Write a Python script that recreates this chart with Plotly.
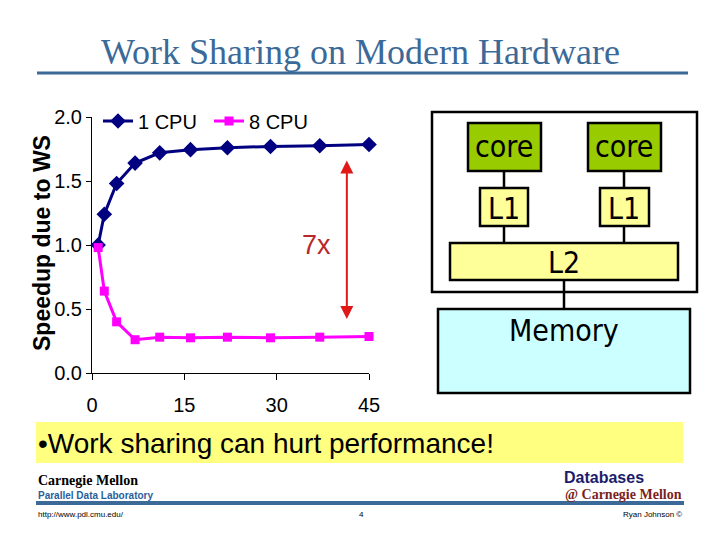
import plotly.graph_objects as go

# ---- data ----
threads = [1, 2, 4, 7, 11, 16, 22, 29, 37, 45]
cpu1 = [1.00, 1.24, 1.48, 1.64, 1.72, 1.745, 1.76, 1.77, 1.775, 1.785]
cpu8 = [0.98, 0.64, 0.40, 0.26, 0.28, 0.275, 0.28, 0.275, 0.28, 0.285]
x_ticks = [0, 15, 30, 45]
y_ticks = [0.0, 0.5, 1.0, 1.5, 2.0]
series_names = ["1 CPU", "8 CPU"]
gap_label = "7x"
gap_arrow = {"x": 41.4, "y0": 0.41, "y1": 1.66}
gap_label_pos = {"x": 36.5, "y": 1.0}

W, H = 720, 540
def px(x):
    return x / W
def py(y):
    return 1 - y / H

BLUE = "#3B6A98"
fig = go.Figure()
fig.add_trace(go.Scatter(x=threads, y=cpu1, name=series_names[0], mode="lines+markers",
                         line=dict(color="#000080", width=3),
                         marker=dict(symbol="diamond", size=12, color="#000080"),
                         cliponaxis=False))
fig.add_trace(go.Scatter(x=threads, y=cpu8, name=series_names[1], mode="lines+markers",
                         line=dict(color="#FF00FF", width=3),
                         marker=dict(symbol="square", size=9, color="#FF00FF"),
                         cliponaxis=False))

shapes = []
annotations = []

# Title underline
shapes.append(dict(type="line", xref="paper", yref="paper", x0=px(37), x1=px(688), y0=py(73), y1=py(73),
                   line=dict(color=BLUE, width=3)))
annotations.append(dict(text="Work Sharing on Modern Hardware", xref="paper", yref="paper",
                        x=px(360), y=py(52), showarrow=False, xanchor="center", yanchor="middle",
                        font=dict(family="Liberation Serif", size=36, color=BLUE)))

# y-axis title
annotations.append(dict(text="<b>Speedup due to WS</b>", xref="paper", yref="paper",
                        x=px(42), y=py(243), showarrow=False, textangle=-90,
                        xanchor="center", yanchor="middle",
                        font=dict(family="Liberation Sans", size=23, color="black")))

# gap arrow and label
annotations.append(dict(x=gap_arrow["x"], y=gap_arrow["y1"], ax=gap_arrow["x"], ay=gap_arrow["y0"],
                        xref="x", yref="y", axref="x", ayref="y", text="", showarrow=True,
                        arrowside="end+start", arrowhead=2, startarrowhead=2, arrowsize=1.3,
                        startarrowsize=1.3, arrowwidth=2, arrowcolor="#E01818",
                        standoff=0, startstandoff=0))
annotations.append(dict(x=gap_label_pos["x"], y=gap_label_pos["y"], xref="x", yref="y", text=gap_label,
                        showarrow=False, font=dict(family="Liberation Sans", size=27, color="#B8282A")))

# Hardware diagram
def box(x0, y0, x1, y1, fill, lw=2.5):
    shapes.append(dict(type="rect", xref="paper", yref="paper", x0=px(x0), x1=px(x1), y0=py(y1), y1=py(y0),
                       fillcolor=fill, line=dict(color="black", width=lw), layer="above"))
def vline(x, y0, y1):
    shapes.append(dict(type="line", xref="paper", yref="paper", x0=px(x), x1=px(x), y0=py(y0), y1=py(y1),
                       line=dict(color="black", width=2.5), layer="above"))
def label(text, x, y, size=30):
    annotations.append(dict(text=text, xref="paper", yref="paper", x=px(x), y=py(y), showarrow=False,
                            xanchor="center", yanchor="middle",
                            font=dict(family="DejaVu Sans Condensed, DejaVu Sans", size=size, color="black")))

box(432, 112, 697, 292, "white")
box(468, 123, 541, 171, "#99CC00")
box(588, 123, 661, 171, "#99CC00")
vline(504, 171, 188); vline(624, 171, 188)
box(480, 188, 528, 226, "#FFFF99")
box(600, 188, 649, 226, "#FFFF99")
vline(504, 226, 243); vline(624, 226, 243)
box(450, 243, 678, 280, "#FFFF99")
vline(564, 280, 309)
box(438, 309, 690, 393, "#CCFFFF")
label("core", 504, 146); label("core", 624, 146)
label("L1", 504, 208); label("L1", 624, 208)
label("L2", 564, 262)
label("Memory", 564, 330)

# Bullet box
shapes.append(dict(type="rect", xref="paper", yref="paper", x0=px(36), x1=px(683), y0=py(463), y1=py(422),
                   fillcolor="#FFFF80", line=dict(width=0), layer="below"))
annotations.append(dict(text="•Work sharing can hurt performance!", xref="paper", yref="paper",
                        x=px(36), y=py(443), showarrow=False, xanchor="left", yanchor="middle",
                        font=dict(family="Liberation Sans", size=28, color="black")))

# Footer
shapes.append(dict(type="line", xref="paper", yref="paper", x0=px(36), x1=px(684), y0=py(503), y1=py(503),
                   line=dict(color=BLUE, width=4)))
annotations.append(dict(text="<b>Carnegie Mellon</b>", xref="paper", yref="paper", x=px(36), y=py(480),
                        showarrow=False, xanchor="left", yanchor="middle",
                        font=dict(family="Liberation Serif", size=14, color="black")))
annotations.append(dict(text="<b>Parallel Data Laboratory</b>", xref="paper", yref="paper", x=px(36), y=py(495),
                        showarrow=False, xanchor="left", yanchor="middle",
                        font=dict(family="Liberation Sans", size=10, color="#2A5E9C")))
annotations.append(dict(text="<b>Databases</b>", xref="paper", yref="paper", x=px(562), y=py(477),
                        showarrow=False, xanchor="left", yanchor="middle",
                        font=dict(family="Liberation Sans", size=16, color="#1C1C6B")))
annotations.append(dict(text="<b>@ Carnegie Mellon</b>", xref="paper", yref="paper", x=px(684), y=py(494),
                        showarrow=False, xanchor="right", yanchor="middle",
                        font=dict(family="Liberation Serif", size=14, color="#7B1F22")))
annotations.append(dict(text="http://www.pdl.cmu.edu/", xref="paper", yref="paper", x=px(36), y=py(514),
                        showarrow=False, xanchor="left", yanchor="middle",
                        font=dict(family="Liberation Sans", size=8, color="black")))
annotations.append(dict(text="4", xref="paper", yref="paper", x=px(361), y=py(514),
                        showarrow=False, xanchor="center", yanchor="middle",
                        font=dict(family="Liberation Sans", size=8, color="black")))
annotations.append(dict(text="Ryan Johnson ©", xref="paper", yref="paper", x=px(684), y=py(514),
                        showarrow=False, xanchor="right", yanchor="middle",
                        font=dict(family="Liberation Sans", size=8, color="black")))

fig.update_layout(
    width=W, height=H, margin=dict(l=0, r=0, t=0, b=0),
    paper_bgcolor="white", plot_bgcolor="white",
    font=dict(family="Liberation Sans", size=20, color="black"),
    showlegend=True,
    legend=dict(orientation="h", x=px(98), y=py(121), xanchor="left", yanchor="middle",
                bgcolor="rgba(0,0,0,0)", font=dict(size=20), entrywidth=66, entrywidthmode="pixels",
                itemwidth=30, tracegroupgap=0),
    xaxis=dict(domain=[px(92), px(369)], range=[0, 45], tickvals=x_ticks, ticktext=[str(v) for v in x_ticks],
               showgrid=False, zeroline=False, showline=True, linecolor="black", linewidth=1,
               ticks="outside", ticklen=6, tickcolor="black", ticklabelstandoff=8, automargin=False),
    yaxis=dict(domain=[py(373), py(117)], range=[0, 2], tickvals=y_ticks, ticktext=[f"{v:.1f}" for v in y_ticks],
               showgrid=False, zeroline=False, showline=True, linecolor="black", linewidth=1,
               ticks="outside", ticklen=5, tickcolor="black", ticklabelstandoff=0, automargin=False),
    shapes=shapes, annotations=annotations,
)

fig.write_html("out.html", config={"displayModeBar": False},
               post_script="document.body.style.margin='0px';document.body.style.padding='0px';")
